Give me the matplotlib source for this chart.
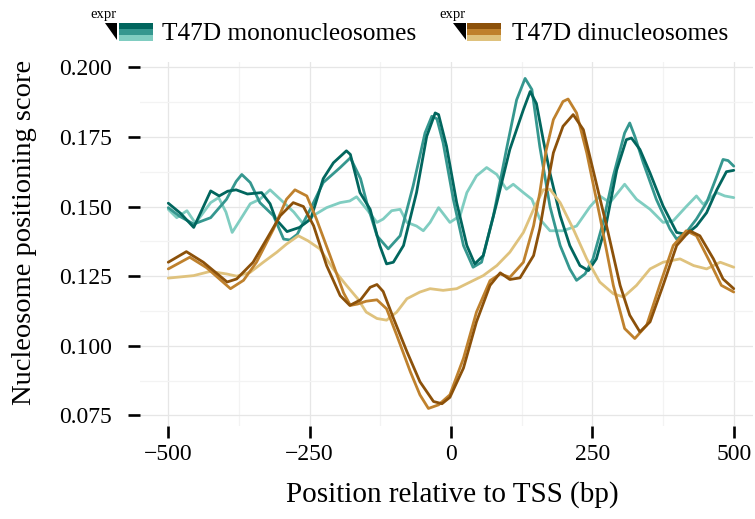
import matplotlib
matplotlib.use("Agg")
import matplotlib.pyplot as plt
from matplotlib.patches import Polygon, Rectangle
from matplotlib.ticker import MultipleLocator

plt.rcParams['font.family'] = ['Liberation Serif', 'DejaVu Serif']

# ---------------- data ----------------
mono_high_x = [-500,-478,-455,-440,-425,-410,-395,-380,-360,-335,-320,-310,-290,-268,-248,-226,-208,-185,-178,-161,
               -143,-126,-114,-102,-84,-61,-43,-28,-22,-8,10,28,42,57,81,104,128,140,151,163,
               175,193,210,228,243,257,275,293,310,319,334,352,375,399,416,434,452,470,487,500]
mono_high_y = [0.1512,0.1475,0.1425,0.1490,0.1556,0.1538,0.1555,0.1560,0.1545,0.1550,0.1510,0.1455,0.1410,0.1425,0.1455,
               0.1600,0.1657,0.1700,0.1687,0.1550,0.1490,0.1360,0.1294,0.1300,0.1360,0.1550,0.1752,0.1836,0.1830,0.1717,
               0.1514,0.1360,0.1294,0.1324,0.1514,0.1705,0.1848,0.1913,0.1870,0.1740,0.1620,0.1467,0.1360,0.1288,0.1270,
               0.1312,0.1443,0.1631,0.1740,0.1746,0.1705,0.1620,0.1502,0.1407,0.1400,0.1430,0.1478,0.1560,0.1625,0.1630]

mono_mid_x = [-500,-480,-455,-425,-397,-380,-370,-355,-338,-314,-296,-285,-272,-249,-226,-196,-178,-160,-149,-131,
              -111,-90,-67,-46,-34,-25,-14,4,22,39,54,75,98,116,131,143,157,175,193,210,
              222,237,251,269,287,307,316,325,340,363,387,399,416,434,452,470,481,490,500]
mono_mid_y = [0.1496,0.1465,0.1437,0.1460,0.1526,0.1590,0.1615,0.1586,0.1514,0.1467,0.1383,0.1380,0.1400,0.1490,0.1586,
              0.1640,0.1675,0.1600,0.1514,0.1395,0.1348,0.1395,0.1574,0.1764,0.1824,0.1815,0.1729,0.1526,0.1360,0.1282,
              0.1300,0.1467,0.1705,0.1883,0.1960,0.1920,0.1715,0.1500,0.1360,0.1276,0.1235,0.1258,0.1312,0.1443,0.1610,
              0.1764,0.1800,0.1752,0.1657,0.1526,0.1420,0.1383,0.1407,0.1455,0.1514,0.1609,0.1669,0.1665,0.1645]

mono_low_x = [-500,-485,-467,-452,-425,-411,-398,-387,-372,-355,-338,-320,-302,-278,-261,-244,-220,-196,-179,-167,
              -149,-131,-120,-105,-90,-78,-61,-49,-37,-22,-11,-2,16,28,45,63,81,98,110,128,
              143,157,175,198,222,246,263,281,307,328,352,375,393,416,434,446,470,484,500]
mono_low_y = [0.1490,0.1460,0.1485,0.1440,0.1514,0.1532,0.1480,0.1407,0.1455,0.1510,0.1526,0.1560,0.1526,0.1480,0.1437,
              0.1467,0.1496,0.1514,0.1520,0.1535,0.1490,0.1443,0.1455,0.1485,0.1490,0.1443,0.1430,0.1413,0.1443,0.1496,
              0.1467,0.1443,0.1467,0.1550,0.1610,0.1640,0.1615,0.1562,0.1580,0.1550,0.1526,0.1455,0.1413,0.1413,0.1430,
              0.1500,0.1538,0.1514,0.1580,0.1526,0.1490,0.1443,0.1449,0.1500,0.1538,0.1508,0.1550,0.1538,0.1532]

di_high_x = [-500,-468,-438,-396,-379,-350,-326,-302,-279,-261,-243,-220,-196,-179,-160,-143,-131,-120,-102,-78,
             -55,-31,-16,-2,22,45,69,87,104,122,146,157,168,181,198,216,234,251,275,299,
             316,334,352,375,399,422,440,464,481,500]
di_high_y = [0.1300,0.1338,0.1300,0.1229,0.1240,0.1300,0.1383,0.1467,0.1514,0.1500,0.1431,0.1288,0.1180,0.1145,0.1165,
             0.1210,0.1220,0.1195,0.1100,0.0979,0.0871,0.0800,0.0792,0.0815,0.0920,0.1086,0.1217,0.1262,0.1238,0.1244,
             0.1324,0.1420,0.1550,0.1693,0.1788,0.1830,0.1776,0.1633,0.1431,0.1217,0.1110,0.1050,0.1086,0.1217,0.1360,
             0.1413,0.1395,0.1312,0.1240,0.1205]

di_mid_x = [-500,-462,-432,-390,-367,-344,-314,-291,-276,-255,-238,-214,-190,-178,-165,-150,-131,-114,-96,-72,
            -55,-40,-22,-2,22,45,69,87,104,128,146,157,168,181,198,207,222,240,263,287,
            307,325,346,369,393,416,434,458,478,500]
di_mid_y = [0.1276,0.1318,0.1280,0.1205,0.1235,0.1300,0.1419,0.1526,0.1560,0.1538,0.1455,0.1324,0.1190,0.1145,0.1150,
            0.1160,0.1165,0.1133,0.1038,0.0907,0.0824,0.0775,0.0788,0.0824,0.0955,0.1121,0.1234,0.1258,0.1246,0.1300,
            0.1431,0.1550,0.1700,0.1812,0.1877,0.1886,0.1836,0.1693,0.1467,0.1217,0.1062,0.1026,0.1074,0.1217,0.1360,
            0.1413,0.1395,0.1300,0.1217,0.1193]

di_low_x = [-500,-455,-426,-397,-379,-355,-332,-308,-291,-270,-253,-232,-208,-185,-165,-150,-131,-114,-96,-78,
            -55,-37,-14,10,34,57,81,104,128,146,163,175,193,216,240,263,287,305,328,352,
            375,405,429,452,476,500]
di_low_y = [0.1243,0.1252,0.1267,0.1258,0.1250,0.1264,0.1300,0.1336,0.1365,0.1395,0.1377,0.1348,0.1275,0.1217,0.1169,
            0.1121,0.1098,0.1092,0.1121,0.1169,0.1193,0.1205,0.1199,0.1205,0.1229,0.1252,0.1288,0.1336,0.1407,0.1490,
            0.1560,0.1562,0.1514,0.1420,0.1312,0.1229,0.1187,0.1175,0.1217,0.1276,0.1300,0.1312,0.1288,0.1276,0.1300,
            0.1282]

mono_colors = ['#01665e', '#35978f', '#80cdc1']   # high, mid, low
di_colors = ['#8c510a', '#bf812d', '#dfc27d']
legend_labels = ['T47D mononucleosomes', 'T47D dinucleosomes']
legend_title = 'expr'
x_ticks = [-500, -250, 0, 250, 500]
x_ticklabels = ['\u2212500', '\u2212250', '0', '250', '500']
y_ticks = [0.075, 0.100, 0.125, 0.150, 0.175, 0.200]
y_ticklabels = ['0.075', '0.100', '0.125', '0.150', '0.175', '0.200']

# ---------------- figure ----------------
W, H = 755, 519
fig = plt.figure(figsize=(W / 100, H / 100), dpi=100)

def fx(px):
    return px / W

def fy(py):
    return 1 - py / H

ax_l, ax_r, ax_t, ax_b = 140, 753, 61.7, 426
ax = fig.add_axes([fx(ax_l), fy(ax_b), (ax_r - ax_l) / W, (ax_b - ax_t) / H])
ax.set_xlim(-550, 534)
ax.set_ylim(0.0712, 0.2020)

for s in ax.spines.values():
    s.set_visible(False)

ax.set_xticks(x_ticks)
ax.set_xticklabels(x_ticklabels)
ax.set_yticks(y_ticks)
ax.set_yticklabels(y_ticklabels)
ax.xaxis.set_minor_locator(MultipleLocator(125))
ax.yaxis.set_minor_locator(MultipleLocator(0.0125))
ax.grid(which='major', color='#e6e6e6', linewidth=0.9)
ax.grid(which='minor', color='#f3f3f3', linewidth=0.9)
ax.set_axisbelow(True)
ax.tick_params(which='major', direction='out', length=8.3, width=1.9, color='black',
               labelsize=17, labelcolor='black')
ax.tick_params(axis='y', pad=12)
ax.tick_params(axis='x', pad=5)
ax.tick_params(which='minor', length=0)

lw = 2.0
series = [
    (mono_low_x, mono_low_y, mono_colors[2]),
    (mono_mid_x, mono_mid_y, mono_colors[1]),
    (mono_high_x, mono_high_y, mono_colors[0]),
    (di_low_x, di_low_y, di_colors[2]),
    (di_mid_x, di_mid_y, di_colors[1]),
    (di_high_x, di_high_y, di_colors[0]),
]
for xs, ys, c in series:
    ax.plot(xs, ys, color=c, lw=lw, solid_joinstyle='round', solid_capstyle='round')

# axis titles
fig.text(fx(25), fy(232), 'Nucleosome positioning score', rotation=90,
         ha='center', va='center', fontsize=20.5)
fig.text(fx(452), fy(495), 'Position relative to TSS (bp)',
         ha='center', va='center', fontsize=21)

# ---------------- legend (drawn manually) ----------------
def legend_block(x_expr, x_tri0, x_tri1, x_band0, x_band1, x_label, colors, label):
    fig.text(fx(x_expr), fy(18), legend_title, ha='left', va='baseline', fontsize=10.5)
    tri = Polygon([(fx(x_tri0), fy(22.7)), (fx(x_tri1), fy(22.7)), (fx(x_tri1), fy(40))],
                  closed=True, transform=fig.transFigure, facecolor='black', edgecolor='none')
    fig.add_artist(tri)
    band_h = 6.0
    for i, c in enumerate(colors):
        top = 22.7 + i * band_h
        r = Rectangle((fx(x_band0), fy(top + band_h)), (x_band1 - x_band0) / W, band_h / H,
                      transform=fig.transFigure, facecolor=c, edgecolor='none')
        fig.add_artist(r)
    fig.text(fx(x_label), fy(39.5), label, ha='left', va='baseline', fontsize=18.3)

legend_block(90, 105, 117.5, 119, 153, 162, mono_colors, legend_labels[0])
legend_block(439, 452.7, 466, 467, 501, 512, di_colors, legend_labels[1])

fig.savefig('out.png', dpi=100)
